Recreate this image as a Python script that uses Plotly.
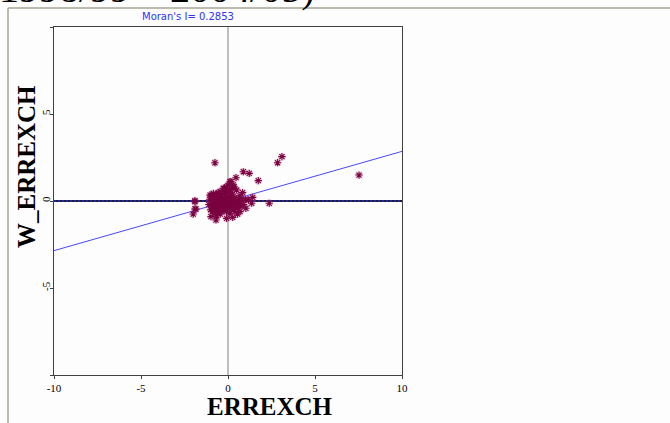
import plotly.graph_objects as go

# Moran scatterplot data (ERREXCH vs spatially lagged W_ERREXCH)
errexch = [
    -0.75, 3.1, 2.85, 7.53, 0.88, 1.22, 1.74, 0.46, 2.37, -1.9, -2.0, -1.84, -1.03, -0.98,
    -0.69, -0.08, 0.27, 0.69, 1.03, 1.36, 1.17, 1.42, 0.17, 0.34, -0.27, -0.46, 0.84, 0.5,
    -0.84, -0.94, -0.56, -0.08, 0.11, 0.3, -1.9, -1.9,
    -1.1, -1.05, -1.0, -0.95, -0.9, -0.9, -0.85, -0.8, -0.8, -0.75, -0.7, -0.7, -0.65, -0.6,
    -0.6, -0.55, -0.5, -0.5, -0.45, -0.45, -0.4, -0.4, -0.35, -0.35, -0.3, -0.3, -0.25, -0.25,
    -0.2, -0.2, -0.15, -0.15, -0.1, -0.1, -0.05, -0.05, 0.0, 0.0, 0.05, 0.05, 0.1, 0.1, 0.15,
    0.15, 0.2, 0.2, 0.25, 0.25, 0.3, 0.3, 0.35, 0.4, 0.4, 0.45, 0.5, 0.55, 0.6, 0.65, 0.7,
    0.75, 0.8, 0.9, 1.0, -0.55, -0.2, 0.0, 0.1, -0.1, 0.3, -0.65, 0.55,
]
w_errexch = [
    2.2, 2.55, 2.2, 1.49, 1.68, 1.59, 1.17, 1.34, -0.13, -0.04, -0.75, -0.46, 0.34, -0.9,
    -1.09, -1.0, -0.94, -0.61, -0.42, -0.13, 0.06, 0.21, 1.11, 0.82, 0.73, 0.54, 0.48, 0.63,
    0.44, 0.34, 0.48, 0.82, 1.11, 0.92, 0.02, -0.46,
    -0.2, 0.1, -0.5, -0.3, 0.05, -0.6, -0.15, 0.2, -0.4, -0.7, -0.1, 0.3, -0.35, 0.1,
    -0.55, -0.2, 0.15, -0.45, -0.05, -0.75, 0.35, -0.3, -0.1, -0.6, 0.2, -0.25, 0.0, -0.45,
    -0.15, 0.45, -0.35, 0.1, -0.6, -0.2, 0.25, -0.05, -0.4, 0.15, -0.25, 0.55, -0.1, -0.7, 0.3,
    -0.3, 0.05, -0.5, -0.15, 0.4, -0.35, 0.1, -0.05, -0.6, 0.2, -0.25, 0.0, -0.4, 0.15, -0.15, 0.3,
    -0.3, 0.05, -0.2, 0.1, 0.4, 0.7, 0.9, 0.65, 0.5, 0.75, -0.85, -0.75,
]
morans_i = 0.2853
axis_range = [-10, 10]
tick_vals = [-10, -5, 0, 5, 10]
x_tick_text = ["-10", "-5", "0", "5", "10"]
y_tick_text = ["", "-5", "0", "5", ""]

fig = go.Figure()

# horizontal reference line at y = 0 (black under navy dots)
fig.add_trace(go.Scatter(x=axis_range, y=[0, 0], mode="lines",
                         line=dict(color="#202020", width=2), hoverinfo="skip"))
fig.add_trace(go.Scatter(x=axis_range, y=[0, 0], mode="lines",
                         line=dict(color="#2424b0", width=2, dash="2px,2px"), hoverinfo="skip"))
# vertical reference line at x = 0
fig.add_trace(go.Scatter(x=[0, 0], y=axis_range, mode="lines",
                         line=dict(color="#808080", width=1), hoverinfo="skip"))
# regression line, slope = Moran's I
fig.add_trace(go.Scatter(x=axis_range, y=[morans_i * v for v in axis_range], mode="lines",
                         line=dict(color="#4848ff", width=1), hoverinfo="skip"))
# halo
fig.add_trace(go.Scatter(x=errexch, y=w_errexch, mode="markers",
                         marker=dict(symbol="circle", size=8, color="rgba(190,90,150,0.25)",
                                     line=dict(width=0)), hoverinfo="skip"))
# points
fig.add_trace(go.Scatter(x=errexch, y=w_errexch, mode="markers",
                         marker=dict(symbol="asterisk", size=6,
                                     line=dict(color="#7a0040", width=1.1))))

serif = "Liberation Serif, Times New Roman, serif"
axis_common = dict(range=axis_range, tickvals=tick_vals, showgrid=False, zeroline=False,
                   showline=True, linecolor="#404040", linewidth=1, mirror=True,
                   ticks="outside", ticklen=3, tickcolor="#404040",
                   tickfont=dict(family=serif, size=11, color="#000000"))
fig.update_xaxes(**axis_common, ticktext=x_tick_text)
fig.update_yaxes(**axis_common, ticktext=y_tick_text, tickangle=-90, ticklabelstandoff=-4)

# paper coordinates helpers: plot area is px 54..402 (x), 27..375 (y)
def px_x(p):
    return (p - 54) / 348.0

def px_y(p):
    return (375 - p) / 348.0

fig.update_layout(
    width=670, height=423,
    margin=dict(l=54, r=268, t=27, b=48),
    paper_bgcolor="#fdfdfd", plot_bgcolor="#fdfdfd",
    showlegend=False,
    shapes=[
        dict(type="line", xref="paper", yref="paper", x0=px_x(8), x1=px_x(672),
             y0=px_y(8), y1=px_y(8), line=dict(color="#a4a494", width=1.5)),
        dict(type="line", xref="paper", yref="paper", x0=px_x(8), x1=px_x(8),
             y0=px_y(8), y1=px_y(425), line=dict(color="#a4a494", width=1.5)),
    ],
    annotations=[
        dict(text="Moran's I= 0.2853", xref="paper", yref="paper", x=px_x(188), y=px_y(17),
             xanchor="center", yanchor="middle", showarrow=False,
             font=dict(family="DejaVu Sans, Verdana, sans-serif", size=10, color="#3030ff")),
        dict(text="ERREXCH", xref="paper", yref="paper", x=px_x(270), y=px_y(406),
             xanchor="center", yanchor="middle", showarrow=False,
             font=dict(family=serif, size=25, color="#000000", weight="bold")),
        dict(text="W_ERREXCH", xref="paper", yref="paper", x=px_x(27), y=px_y(167),
             xanchor="center", yanchor="middle", showarrow=False, textangle=-90,
             font=dict(family=serif, size=25, color="#000000", weight="bold")),
        dict(text="1998/99 \u2013 2004/05)", xref="paper", yref="paper", x=px_x(-3), y=px_y(13),
             xanchor="left", yanchor="bottom", showarrow=False,
             font=dict(family=serif, size=40, color="#000000")),
    ],
)

fig.write_html("out.html", config={"displayModeBar": False},
               post_script="document.body.style.margin='0';")
